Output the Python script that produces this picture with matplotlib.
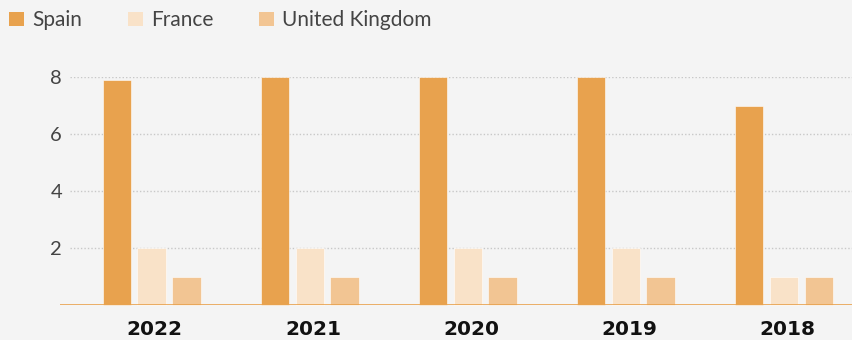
import numpy as np
import matplotlib.pyplot as plt
from matplotlib.patches import Patch

# Data
years = ['2022', '2021', '2020', '2019', '2018']
spain = [7.9, 8, 8, 8, 7]
france = [2, 2, 2, 2, 1]
uk = [1, 1, 1, 1, 1]

series = ['Spain', 'France', 'United Kingdom']
colors = ['#E8A24E', '#F9E2C8', '#F2C593']
bg = '#F4F4F4'
lato = ['Lato', 'DejaVu Sans']

fig = plt.figure(figsize=(8.52, 3.4), dpi=100, facecolor=bg)
ax = fig.add_axes([60 / 852, 35 / 340, 792 / 852, 228 / 340], facecolor=bg)

x = np.arange(len(years))
w = 0.18
step = 0.22
for i, (vals, col) in enumerate(zip([spain, france, uk], colors)):
    ax.bar(x + (i - 1) * step, vals, width=w, color=col,
           edgecolor='#ffffff', linewidth=0.4, zorder=3, clip_on=False)

ax.set_xlim(-0.58, 4.43)
ax.set_ylim(0, 8)

# dotted gridlines start a little right of the baseline
for yv in [2, 4, 6, 8]:
    ax.axhline(yv, xmin=10 / 792, xmax=1, linestyle=(0, (1, 1.5)),
               color='#c8c8c8', linewidth=1, zorder=0)
ax.axhline(0, color='#E8A24E', linewidth=1.2, zorder=4)

for s in ax.spines.values():
    s.set_visible(False)

ax.set_yticks([2, 4, 6, 8])
ax.tick_params(axis='y', length=0, pad=-1.5, labelsize=14.5, labelcolor='#444444')
ax.tick_params(axis='x', length=0, pad=11)
ax.set_xticks(x + 0.02)
ax.set_xticklabels(years, fontsize=14.5, fontweight='bold', color='#111111',
                   family='DejaVu Sans')
for lab in ax.get_yticklabels():
    lab.set_family(lato)
    lab.set_fontweight('normal')

handles = [Patch(facecolor=c, edgecolor='none') for c in colors]
leg = fig.legend(handles, series, loc='upper left', bbox_to_anchor=(-0.011, 1.025),
                 ncol=3, frameon=False, handlelength=0.7, handleheight=0.7,
                 handletextpad=0.4, columnspacing=2.2,
                 prop={'family': lato, 'weight': 'normal', 'size': 15})
for t in leg.get_texts():
    t.set_color('#444444')

fig.savefig('out.png', dpi=100, facecolor=bg)
